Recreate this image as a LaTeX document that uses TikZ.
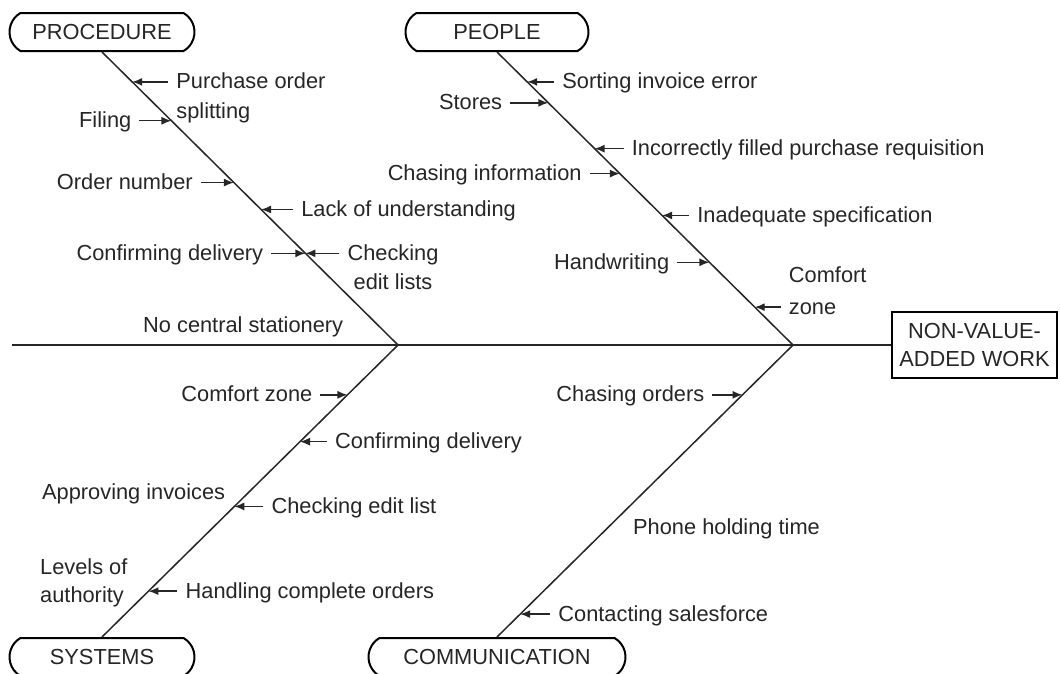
\documentclass[tikz,border=0pt]{standalone}
\usepackage{fontspec}
\setmainfont{Liberation Sans}
\usetikzlibrary{arrows.meta,calc,shapes.misc}
\newcommand\lblfont{\fontsize{21.8}{28}\selectfont}
% right-hand label: name, bone start, bone end, fraction, dx (text start - tip), text
\newcommand\Rlab[6]{%
  \coordinate (#1t) at ($(#2)!#4!(#3)$);
  \node[lbl, anchor=base west] (#1) at ($(#1t)+(#5,7)$) {#6};
  \draw[arr] ($(#1t)+(#5,0)+(-8,0)$) -- (#1t);}
% left-hand label: dx negative (text end - tip)
\newcommand\Llab[6]{%
  \coordinate (#1t) at ($(#2)!#4!(#3)$);
  \node[lbl, anchor=base east] (#1) at ($(#1t)+(#5,7)$) {#6};
  \draw[arr] ($(#1t)+(#5,0)+(8,0)$) -- (#1t);}
\begin{document}
\begin{tikzpicture}[x=1pt,y=-1pt,
  bone/.style={line width=1.5pt, draw=black!85},
  catbox/.style={rounded rectangle, rounded rectangle arc length=120, draw=black, line width=2pt,
    minimum height=38pt, inner sep=0pt, font=\lblfont, text=black!85},
  lbl/.style={inner sep=0pt, font=\lblfont, text=black!85},
  arr/.style={line width=1.4pt, draw=black!85, -{Latex[length=10pt,width=8pt]}}]
\useasboundingbox (0,0) rectangle (1060,673);
\fill[white] (0,0) rectangle (1060,673);

% category boxes
\node[catbox, minimum width=185pt] (proc) at (102,32) {PROCEDURE};
\node[catbox, minimum width=183pt] (peop) at (497,32) {PEOPLE};
\node[catbox, minimum width=185pt] (sys) at (102,657) {SYSTEMS};
\node[catbox, minimum width=257pt] (comm) at (497,657) {COMMUNICATION};
\node[draw=black, line width=2pt, minimum width=165pt, minimum height=66pt, align=center,
  inner sep=0pt, font=\lblfont, text=black!85] (nva) at (974.5,345) {NON-VALUE-\\ADDED WORK};

% spine and bones
\coordinate (sL) at (12,345);
\coordinate (J1) at (398,345);
\coordinate (J2) at (793,345);
\draw[bone] (sL) -- (J1) -- (J2) -- (nva.west);
\draw[bone] (proc.south) -- (J1) -- (sys.north);
\draw[bone] (peop.south) -- (J2) -- (comm.north);

% PROCEDURE
\Rlab{pa}{proc.south}{J1}{30/294}{44}{Purchase order}
\node[lbl, anchor=base west] (pa2) at ($(pa.base west)+(0,30)$) {splitting};
\Llab{pb}{proc.south}{J1}{69/294}{-40}{Filing}
\Llab{pc}{proc.south}{J1}{131/294}{-41}{Order number}
\Rlab{pd}{proc.south}{J1}{158/294}{40}{Lack of understanding}
\Llab{pe}{proc.south}{J1}{202/294}{-42}{Confirming delivery}
\Rlab{pf}{proc.south}{J1}{202/294}{42}{Checking}
\node[lbl, anchor=base] (pf2) at ($(pf.base)+(0,29)$) {edit lists};
\node[lbl, anchor=base west] (pg) at (143,332) {No central stationery};

% PEOPLE
\Rlab{qa}{peop.south}{J2}{30/294}{35}{Sorting invoice error}
\Llab{qb}{peop.south}{J2}{51/294}{-46}{Stores}
\Rlab{qc}{peop.south}{J2}{97/294}{37}{Incorrectly filled purchase requisition}
\Llab{qd}{peop.south}{J2}{122/294}{-38}{Chasing information}
\Rlab{qe}{peop.south}{J2}{164/294}{35}{Inadequate specification}
\Llab{qf}{peop.south}{J2}{211/294}{-40}{Handwriting}
\Rlab{qg}{peop.south}{J2}{256/294}{34}{zone}
\node[lbl, anchor=base west] (qg2) at ($(qg.base west)+(0,-32)$) {Comfort};

% SYSTEMS
\Llab{sa}{J1}{sys.north}{50/293}{-35}{Comfort zone}
\Rlab{sb}{J1}{sys.north}{97/293}{35}{Confirming delivery}
\node[lbl, anchor=base west] (sc0) at (42,499) {Approving invoices};
\Rlab{sc}{J1}{sys.north}{162/293}{37}{Checking edit list}
\node[lbl, anchor=base west] (sd1) at (40,574) {Levels of};
\node[lbl, anchor=base west] (sd2) at (40,602) {authority};
\Rlab{sd}{J1}{sys.north}{247/293}{37}{Handling complete orders}

% COMMUNICATION
\Llab{ca}{J2}{comm.north}{50/293}{-38}{Chasing orders}
\node[lbl, anchor=base west] (cc) at (633,534) {Phone holding time};
\Rlab{cb}{J2}{comm.north}{270/293}{38}{Contacting salesforce}
\end{tikzpicture}
\end{document}
